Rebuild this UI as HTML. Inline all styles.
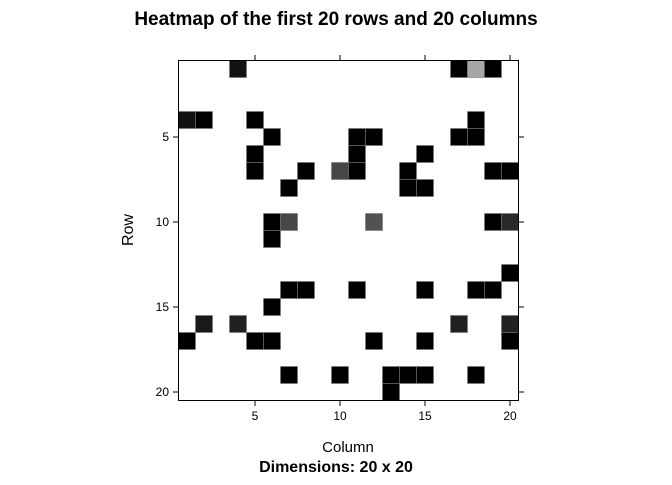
<!DOCTYPE html>
<html><head><meta charset="utf-8"><style>
body{margin:0;background:#fff;font-family:"Liberation Sans",Arial,sans-serif}
</style></head><body>
<svg width="672" height="480" xmlns="http://www.w3.org/2000/svg">
<text x="336" y="25" text-anchor="middle" font-size="19" font-weight="bold">Heatmap of the first 20 rows and 20 columns</text>
<g id="cells"></g>
<rect x="178.5" y="60.5" width="340" height="340" fill="none" stroke="#000"/>
<g id="axes" font-size="12"></g>
<text x="133" y="230" text-anchor="middle" font-size="16" transform="rotate(-90 133 230)">Row</text>
<text x="348" y="452" text-anchor="middle" font-size="15">Column</text>
<text x="336" y="472" text-anchor="middle" font-size="16" font-weight="bold">Dimensions: 20 x 20</text>
</svg>
<script>
const rows=[1,1,1,1,4,4,4,4,5,5,5,5,5,6,6,6,7,7,7,7,7,7,7,8,8,8,10,10,10,10,10,11,13,14,14,14,14,14,14,15,16,16,16,16,17,17,17,17,17,17,19,19,19,19,19,19,20];
const cols=[4,17,18,19,1,2,5,18,6,11,12,17,18,5,11,15,5,8,10,11,14,19,20,7,14,15,6,7,12,19,20,6,20,7,8,11,15,18,19,6,2,4,17,20,1,5,6,12,15,20,7,10,13,14,15,18,13];
const vals=[0.93,1,0.35,1,0.93,1,1,1,1,1,1,1,1,1,1,1,1,1,0.72,1,1,1,1,1,1,1,1,0.72,0.68,1,0.84,1,1,1,1,1,1,1,1,1,0.9,0.87,0.87,0.87,1,1,1,1,1,1,1,1,1,1,1,1,1];
const ticks=[5,10,15,20];
const NS="http://www.w3.org/2000/svg";
const x0=178.5,y0=60.5,cw=17;
const xs=c=>x0+(c-1)*cw, ys=r=>y0+(r-1)*cw;
const g=document.getElementById('cells');
rows.forEach((r,i)=>{
 const e=document.createElementNS(NS,'rect');
 const v=Math.round(255*(1-vals[i]));
 e.setAttribute('x',xs(cols[i]));e.setAttribute('y',ys(r));
 e.setAttribute('width',cw);e.setAttribute('height',cw);
 e.setAttribute('fill',`rgb(${v},${v},${v})`);e.setAttribute('stroke','#777');e.setAttribute('stroke-width','0.6');
 
 
 g.appendChild(e);
});
const a=document.getElementById('axes');
function line(x1,y1,x2,y2){const l=document.createElementNS(NS,'line');l.setAttribute('x1',x1);l.setAttribute('y1',y1);l.setAttribute('x2',x2);l.setAttribute('y2',y2);l.setAttribute('stroke','#000');


a.appendChild(l);}
function txt(x,y,s,anc){const t=document.createElementNS(NS,'text');t.setAttribute('x',x);t.setAttribute('y',y);t.setAttribute('text-anchor',anc);t.textContent=s;


a.appendChild(t);}
ticks.forEach(t=>{
 const cx=xs(t)+cw/2, cy=ys(t)+cw/2;
 line(cx,400.5,cx,406);line(cx,60.5,cx,55);
 txt(cx,420,String(t),'middle');
 line(178.5,cy,173,cy);line(518.5,cy,524,cy);
 txt(169,cy+4,String(t),'end');
});
</script>
</body></html>
